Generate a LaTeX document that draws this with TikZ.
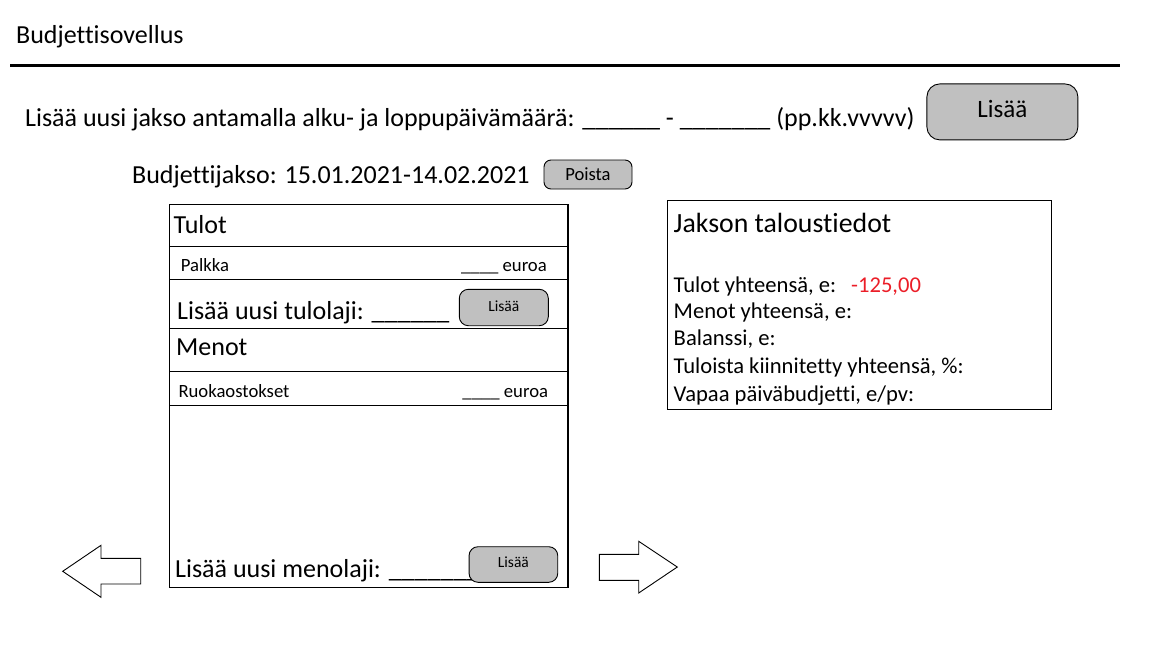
\documentclass[tikz,border=0pt]{standalone}
\usepackage{fontspec}
\setmainfont{Carlito}[Ligatures={NoCommon}]
\definecolor{btngray}{RGB}{192,192,192}
\definecolor{valred}{RGB}{235,30,40}
\newcommand{\fs}[1]{\fontsize{#1}{#1}\selectfont}

\begin{document}
\begin{tikzpicture}[x=1pt, y=-1pt,
    txt/.style={anchor=base west, inner sep=0pt},
    btn/.style={draw, fill=btngray, line width=0.9pt, inner sep=0pt},
    frame/.style={line width=1.2pt}]
  \useasboundingbox (0,0) rectangle (1152,648);
  % otsikko
  \node [txt, font=\fs{26}] (otsikko) at (16,43) {Budjettisovellus};
  \draw [line width=3pt] (10,65) -- (1120,65);
  % uusi jakso
  \node [txt, font=\fs{26}] (uusijakso) at (25,126) {Lisää uusi jakso antamalla alku- ja loppupäivämäärä: \_\_\_\_\_\_ - \_\_\_\_\_\_\_ (pp.kk.vvvvv)};
  \node [btn, rounded corners=13pt, minimum width=151pt, minimum height=56pt, text height=11pt, text depth=0pt, font=\fs{25}] (lisaajakso) at (1002.4,111.9) {Lisää};
  \node [txt, font=\fs{26}] (jakso) at (132,183) {Budjettijakso: 15.01.2021-14.02.2021};
  \node [btn, rounded corners=7pt, minimum width=88pt, minimum height=29pt, text height=11pt, text depth=0pt, font=\fs{18.6}] (poista) at (588,174.5) {Poista};
  % tulot ja menot
  \draw [frame] (169.3,204.7) rectangle (568,587.3);
  \foreach \y in {246.7, 279.3, 328.3, 371.7, 405.7}
    \draw [frame] (169.3,\y) -- (568,\y);
  \node [txt, font=\fs{26}] (tulot) at (173.5,233.3) {Tulot};
  \node [txt, font=\fs{18.7}] (palkka) at (180.7,271) {Palkka};
  \node [anchor=base east, inner sep=0pt, font=\fs{18.7}] (palkkaeur) at (547,271) {\_\_\_\_ euroa};
  \node [txt, font=\fs{26}] (uusitulo) at (177,319) {Lisää uusi tulolaji: \_\_\_\_\_\_};
  \node [btn, rounded corners=9pt, minimum width=89pt, minimum height=36.4pt, text height=7pt, text depth=0pt, font=\fs{15.5}] (lisaatulo) at (503.8,307.5) {Lisää};
  \node [txt, font=\fs{26}] (menot) at (176,355) {Menot};
  \node [txt, font=\fs{18.7}] (ruoka) at (178.3,397) {Ruokaostokset};
  \node [anchor=base east, inner sep=0pt, font=\fs{18.7}] (ruokaeur) at (548.3,397) {\_\_\_\_ euroa};
  \node [txt, font=\fs{26}] (uusimeno) at (175,577) {Lisää uusi menolaji: \_\_\_\_\_\_\_\_};
  \node [btn, rounded corners=9pt, minimum width=88.7pt, minimum height=35.6pt, text height=6.5pt, text depth=0pt, font=\fs{15.5}] (lisaameno) at (513.4,564.5) {Lisää};
  % nuolet
  \draw [line width=0.9pt] (62.7,571.3) -- (101,545.3) -- (101,558.3) -- (140.7,558.3) -- (140.7,584) -- (101,584) -- (101,597.3) -- cycle;
  \draw [line width=0.9pt] (599.3,554.3) -- (638.7,554.3) -- (638.7,541.3) -- (677.3,567) -- (638.7,593) -- (638.7,580.3) -- (599.3,580.3) -- cycle;
  % taloustiedot
  \draw [frame] (667.3,200.7) rectangle (1051.7,409.3);
  \node [txt, font=\fs{27.8}] (taloustiedot) at (673.5,232.3) {Jakson taloustiedot};
  \begin{scope}
    \clip (667.3,200.7) rectangle (1051.7,404);
    \node [txt, font=\fs{22.6}] (tulosum) at (673.5,292.3) {Tulot yhteensä, e:};
    \node [txt, font=\fs{22.6}, text=valred] (tuloarvo) at (851,292.3) {-125,00};
    \node [txt, font=\fs{22.6}] (menosum) at (673.5,318.7) {Menot yhteensä, e:};
    \node [txt, font=\fs{22.6}] (balanssi) at (673.5,345.3) {Balanssi, e:};
    \node [txt, font=\fs{22.6}] (kiinnitetty) at (673.5,373.3) {Tuloista kiinnitetty yhteensä, \%:};
    \node [txt, font=\fs{22.6}] (paivabudj) at (673.5,401) {Vapaa päiväbudjetti, e/pv:};
  \end{scope}
\end{tikzpicture}
\end{document}
